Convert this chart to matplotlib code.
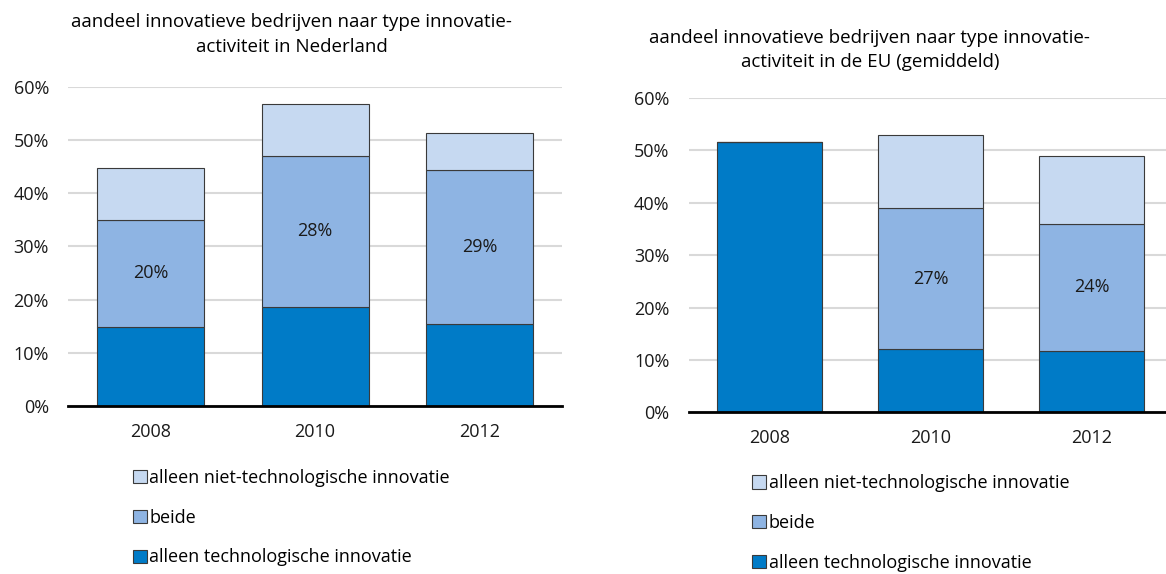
import matplotlib
matplotlib.use("Agg")
import matplotlib.pyplot as plt
import numpy as np

plt.rcParams['font.family'] = ['Open Sans', 'DejaVu Sans']

jaren = ["2008", "2010", "2012"]
series = ["alleen technologische innovatie", "beide", "alleen niet-technologische innovatie"]

# Nederland
nl_tech = [14.8, 18.6, 15.5]
nl_beide = [20.2, 28.4, 28.9]
nl_niet = [9.8, 9.7, 6.9]

# EU (gemiddeld), 2008 alleen totaal
eu_tech = [51.6, 12.1, 11.8]
eu_beide = [0, 26.8, 24.2]
eu_niet = [0, 14.0, 12.9]

kleuren = ["#007BC7", "#8EB4E3", "#C6D9F1"]
titels = ["aandeel innovatieve bedrijven naar type innovatie-\nactiviteit in Nederland",
          "aandeel innovatieve bedrijven naar type innovatie-\nactiviteit in de EU (gemiddeld)"]

fig = plt.figure(figsize=(11.66, 5.74), dpi=100)
ax1 = fig.add_axes([0.0586, 0.2927, 0.4232, 0.5563])
ax2 = fig.add_axes([0.5909, 0.2814, 0.4142, 0.5484])


def teken(ax, tech, beide, niet):
    x = np.arange(len(jaren))
    onder = np.zeros(len(jaren))
    bars = []
    for waarden, kleur, naam in zip([tech, beide, niet], kleuren, series):
        b = ax.bar(x, waarden, 0.65, bottom=onder, color=kleur, edgecolor="#3a3a3a",
                   linewidth=0.8, label=naam, zorder=3)
        bars.append(b)
        onder = onder + np.array(waarden)
    # labels in het middensegment
    for i, v in enumerate(beide):
        if v > 0:
            ax.text(x[i], tech[i] + v / 2, f"{v:.0f}%", ha="center", va="center",
                    fontsize=13, color="#1a1a1a", zorder=4)
    ax.set_xlim(-0.5, 2.5)
    ax.set_ylim(0, 60)
    ax.set_yticks(np.arange(0, 61, 10))
    ax.set_yticklabels([f"{t}%" for t in range(0, 61, 10)])
    ax.set_xticks(x)
    ax.set_xticklabels(jaren)
    ax.grid(axis="y", color="#d9d9d9", linewidth=1.5, zorder=0)
    ax.set_axisbelow(True)
    for s in ["top", "right", "left"]:
        ax.spines[s].set_visible(False)
    ax.spines["bottom"].set_linewidth(2)
    ax.spines["bottom"].set_color("black")
    ax.spines["bottom"].set_zorder(5)
    ax.tick_params(length=0, labelsize=13, colors="#1a1a1a")
    ax.tick_params(axis="x", pad=12)
    ax.tick_params(axis="y", pad=14)
    return bars


b1 = teken(ax1, nl_tech, nl_beide, nl_niet)
b2 = teken(ax2, eu_tech, eu_beide, eu_niet)

fig.text(0.25, 0.978, titels[0], ha="center", va="top", fontsize=13.5, linespacing=1.55)
fig.text(0.746, 0.95, titels[1], ha="center", va="top", fontsize=13.5, linespacing=1.45)

for ax, bars, pos in [(ax1, b1, (0.108, 0.098)), (ax2, b2, (0.639, 0.089))]:
    h = [bars[2], bars[1], bars[0]]
    ax.legend(h, [series[2], series[1], series[0]], loc="center left",
              bbox_to_anchor=pos, bbox_transform=fig.transFigure, frameon=False,
              fontsize=13, handlelength=0.75, handleheight=0.75, handletextpad=0.15,
              labelspacing=1.2, borderaxespad=0)

fig.savefig("out.png", dpi=100)
